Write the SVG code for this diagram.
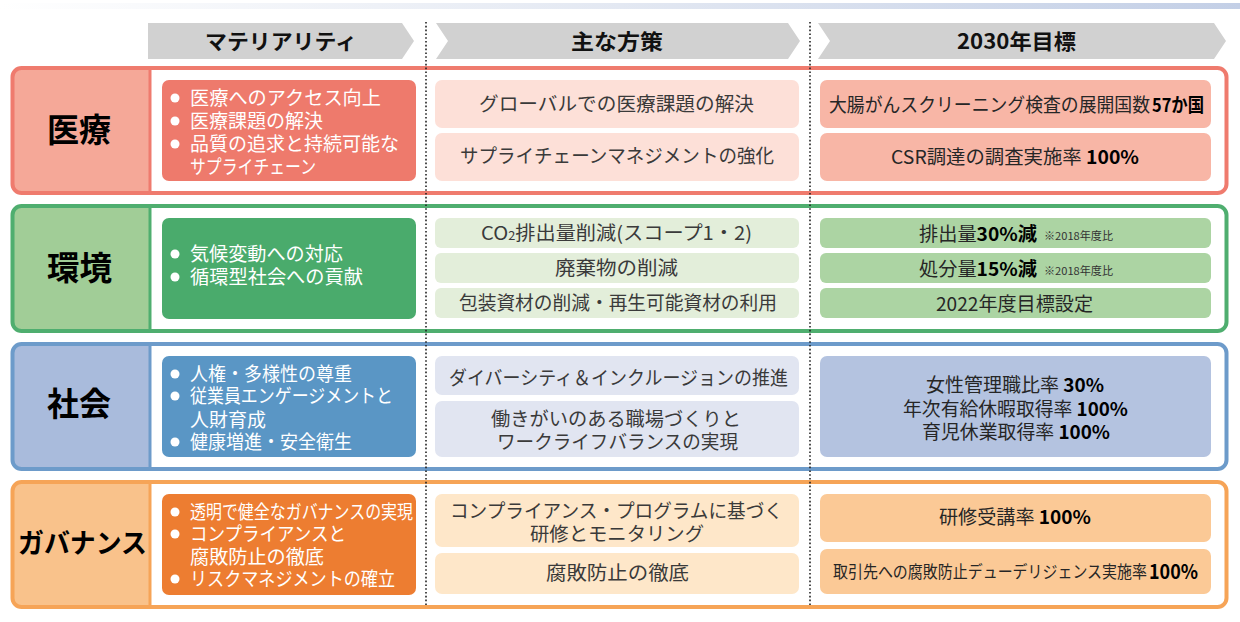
<svg xmlns="http://www.w3.org/2000/svg" width="1240" height="622" viewBox="0 0 1240 622">
<defs>
<linearGradient id="topband" x1="0" y1="0" x2="1" y2="0">
<stop offset="0" stop-color="#ffffff"/>
<stop offset="0.5" stop-color="#e3e8f2"/>
<stop offset="1" stop-color="#c3cfe6"/>
</linearGradient>
<style>
text{font-family:"Noto Sans CJK JP","Noto Sans",sans-serif;}
.hd{fill:#d1d1d1;}
.ht{font-size:21px;font-weight:bold;fill:#111;}
.lab{font-size:33px;font-weight:bold;fill:#000;}
.mt{font-size:19px;fill:#fff;}
.bul{fill:#fff;}
.ms{font-size:19px;fill:#3a3a3a;}
.tg{font-size:19px;fill:#262626;}
.b{font-weight:bold;fill:#000;}
.sm{font-size:11px;fill:#333;}
.div{stroke:#222;stroke-width:1.6;stroke-dasharray:1.6 2.2;fill:none;}
.outer{fill:none;stroke-width:4;}
</style>
</defs>
<rect x="0" y="3" width="1240" height="6" fill="url(#topband)"/>

<g id="headers">
<g id="header-materiality">
<polygon class="hd" points="148,23 402,23 414,41 402,59 148,59"/>
<text class="ht" x="205" y="49" textLength="152" lengthAdjust="spacingAndGlyphs">マテリアリティ</text>
</g>
<g id="header-measures">
<polygon class="hd" points="436,23 788,23 800,41 788,59 436,59 448,41"/>
<text class="ht" x="571" y="49" textLength="92" lengthAdjust="spacingAndGlyphs">主な方策</text>
</g>
<g id="header-targets">
<polygon class="hd" points="818,23 1214,23 1226,41 1214,59 818,59 830,41"/>
<text class="ht" x="957" y="49" textLength="119" lengthAdjust="spacingAndGlyphs">2030年目標</text>
</g>
</g>

<!-- Row 1 医療 -->
<g id="row-medical">
<rect x="12.5" y="68" width="1214" height="125" rx="9" fill="#fff"/>
<path d="M150,68 H21.5 A9,9 0 0 0 12.5,77 V184 A9,9 0 0 0 21.5,193 H150 Z" fill="#f5a898"/>
<line x1="150" y1="68" x2="150" y2="193" stroke="#ef7b6e" stroke-width="3"/>
<rect class="outer" x="12.5" y="68" width="1214" height="125" rx="9" stroke="#ef7b6e"/>
<text class="lab" x="47" y="142" textLength="64" lengthAdjust="spacingAndGlyphs">医療</text>
<g id="medical-materiality">
<rect x="162" y="80" width="254" height="101" rx="7" fill="#ee7a6c"/>
<circle class="bul" cx="175" cy="98" r="4.5"/>
<circle class="bul" cx="175" cy="121" r="4.5"/>
<circle class="bul" cx="175" cy="144" r="4.5"/>
<text class="mt"><tspan x="190" y="105" textLength="191" lengthAdjust="spacingAndGlyphs">医療へのアクセス向上</tspan><tspan x="190" y="128" textLength="133" lengthAdjust="spacingAndGlyphs">医療課題の解決</tspan><tspan x="190" y="151" textLength="209" lengthAdjust="spacingAndGlyphs">品質の追求と持続可能な</tspan><tspan x="190" y="174" textLength="126" lengthAdjust="spacingAndGlyphs">サプライチェーン</tspan></text>
</g>
<g id="medical-measure-1">
<rect x="435" y="80" width="364" height="48" rx="7" fill="#fde0d8"/>
<text class="ms" x="479" y="111" textLength="275" lengthAdjust="spacingAndGlyphs">グローバルでの医療課題の解決</text>
</g>
<g id="medical-measure-2">
<rect x="435" y="133" width="364" height="48" rx="7" fill="#fde0d8"/>
<text class="ms" x="460" y="163" textLength="314" lengthAdjust="spacingAndGlyphs">サプライチェーンマネジメントの強化</text>
</g>
<g id="medical-target-1">
<rect x="820" y="80" width="391" height="48" rx="7" fill="#f8b6a6"/>
<text class="tg"><tspan x="829" y="112" textLength="321" lengthAdjust="spacingAndGlyphs">大腸がんスクリーニング検査の展開国数</tspan><tspan class="b" x="1152" y="112" textLength="52" lengthAdjust="spacingAndGlyphs">57か国</tspan></text>
</g>
<g id="medical-target-2">
<rect x="820" y="133" width="391" height="48" rx="7" fill="#f8b6a6"/>
<text class="tg" x="891" y="164" textLength="248" lengthAdjust="spacingAndGlyphs">CSR調達の調査実施率 <tspan class="b">100%</tspan></text>
</g>
</g>

<!-- Row 2 環境 -->
<g id="row-environment">
<rect x="12.5" y="206" width="1214" height="125" rx="9" fill="#fff"/>
<path d="M150,206 H21.5 A9,9 0 0 0 12.5,215 V322 A9,9 0 0 0 21.5,331 H150 Z" fill="#a1cd97"/>
<line x1="150" y1="206" x2="150" y2="331" stroke="#4fae6f" stroke-width="3"/>
<rect class="outer" x="12.5" y="206" width="1214" height="125" rx="9" stroke="#4fae6f"/>
<text class="lab" x="47" y="280" textLength="65" lengthAdjust="spacingAndGlyphs">環境</text>
<g id="environment-materiality">
<rect x="162" y="218" width="254" height="101" rx="7" fill="#4aab6c"/>
<circle class="bul" cx="175" cy="254" r="4.5"/>
<circle class="bul" cx="175" cy="277" r="4.5"/>
<text class="mt"><tspan x="190" y="261" textLength="153" lengthAdjust="spacingAndGlyphs">気候変動への対応</tspan><tspan x="190" y="284" textLength="173" lengthAdjust="spacingAndGlyphs">循環型社会への貢献</tspan></text>
</g>
<g id="environment-measure-1">
<rect x="435" y="218" width="364" height="30" rx="6" fill="#e3eeda"/>
<text class="ms" x="481" y="240" textLength="271" lengthAdjust="spacingAndGlyphs">CO<tspan font-size="12">2</tspan>排出量削減(スコープ1・2)</text>
</g>
<g id="environment-measure-2">
<rect x="435" y="253" width="364" height="30" rx="6" fill="#e3eeda"/>
<text class="ms" x="555" y="275" textLength="123" lengthAdjust="spacingAndGlyphs">廃棄物の削減</text>
</g>
<g id="environment-measure-3">
<rect x="435" y="288" width="364" height="30" rx="6" fill="#e3eeda"/>
<text class="ms" x="459" y="310" textLength="318" lengthAdjust="spacingAndGlyphs">包装資材の削減・再生可能資材の利用</text>
</g>
<g id="environment-target-1">
<rect x="820" y="218" width="391" height="30" rx="6" fill="#acd4a3"/>
<text class="tg"><tspan x="919" y="241" textLength="118" lengthAdjust="spacingAndGlyphs">排出量<tspan class="b">30%減</tspan></tspan><tspan class="sm" x="1044" y="240" textLength="69" lengthAdjust="spacingAndGlyphs">※2018年度比</tspan></text>
</g>
<g id="environment-target-2">
<rect x="820" y="253" width="391" height="30" rx="6" fill="#acd4a3"/>
<text class="tg"><tspan x="919" y="276" textLength="118" lengthAdjust="spacingAndGlyphs">処分量<tspan class="b">15%減</tspan></tspan><tspan class="sm" x="1044" y="275" textLength="69" lengthAdjust="spacingAndGlyphs">※2018年度比</tspan></text>
</g>
<g id="environment-target-3">
<rect x="820" y="288" width="391" height="30" rx="6" fill="#acd4a3"/>
<text class="tg" x="936" y="311" textLength="157" lengthAdjust="spacingAndGlyphs">2022年度目標設定</text>
</g>
</g>

<!-- Row 3 社会 -->
<g id="row-society">
<rect x="12.5" y="344" width="1214" height="125" rx="9" fill="#fff"/>
<path d="M150,344 H21.5 A9,9 0 0 0 12.5,353 V460 A9,9 0 0 0 21.5,469 H150 Z" fill="#a9bbdc"/>
<line x1="150" y1="344" x2="150" y2="469" stroke="#6d9bca" stroke-width="3"/>
<rect class="outer" x="12.5" y="344" width="1214" height="125" rx="9" stroke="#6d9bca"/>
<text class="lab" x="47" y="416" textLength="64" lengthAdjust="spacingAndGlyphs">社会</text>
<g id="society-materiality">
<rect x="162" y="356" width="254" height="101" rx="7" fill="#5a96c5"/>
<circle class="bul" cx="175" cy="374" r="4.5"/>
<circle class="bul" cx="175" cy="396" r="4.5"/>
<circle class="bul" cx="175" cy="442" r="4.5"/>
<text class="mt"><tspan x="190" y="381" textLength="162" lengthAdjust="spacingAndGlyphs">人権・多様性の尊重</tspan><tspan x="190" y="403" textLength="203" lengthAdjust="spacingAndGlyphs">従業員エンゲージメントと</tspan><tspan x="190" y="427" textLength="76" lengthAdjust="spacingAndGlyphs">人財育成</tspan><tspan x="190" y="449" textLength="162" lengthAdjust="spacingAndGlyphs">健康増進・安全衛生</tspan></text>
</g>
<g id="society-measure-1">
<rect x="435" y="356" width="364" height="39" rx="7" fill="#e1e5f1"/>
<text class="ms" x="449" y="385" textLength="339" lengthAdjust="spacingAndGlyphs">ダイバーシティ＆インクルージョンの推進</text>
</g>
<g id="society-measure-2">
<rect x="435" y="401" width="364" height="56" rx="7" fill="#e1e5f1"/>
<text class="ms"><tspan x="491" y="426" textLength="250" lengthAdjust="spacingAndGlyphs">働きがいのある職場づくりと</tspan><tspan x="497" y="449" textLength="241" lengthAdjust="spacingAndGlyphs">ワークライフバランスの実現</tspan></text>
</g>
<g id="society-target">
<rect x="820" y="356" width="391" height="101" rx="7" fill="#b4c3e0"/>
<text class="tg"><tspan x="926" y="392" textLength="178" lengthAdjust="spacingAndGlyphs">女性管理職比率 <tspan class="b">30%</tspan></tspan><tspan x="903" y="416" textLength="225" lengthAdjust="spacingAndGlyphs">年次有給休暇取得率 <tspan class="b">100%</tspan></tspan><tspan x="922" y="439" textLength="188" lengthAdjust="spacingAndGlyphs">育児休業取得率 <tspan class="b">100%</tspan></tspan></text>
</g>
</g>

<!-- Row 4 ガバナンス -->
<g id="row-governance">
<rect x="12.5" y="482" width="1214" height="125" rx="9" fill="#fff"/>
<path d="M150,482 H21.5 A9,9 0 0 0 12.5,491 V598 A9,9 0 0 0 21.5,607 H150 Z" fill="#f9c28b"/>
<line x1="150" y1="482" x2="150" y2="607" stroke="#f6a457" stroke-width="3"/>
<rect class="outer" x="12.5" y="482" width="1214" height="125" rx="9" stroke="#f6a457"/>
<text class="lab" x="18" y="553" textLength="129" lengthAdjust="spacingAndGlyphs" style="font-size:27px">ガバナンス</text>
<g id="governance-materiality">
<rect x="162" y="494" width="254" height="101" rx="7" fill="#ed7d31"/>
<circle class="bul" cx="175" cy="512" r="4.5"/>
<circle class="bul" cx="175" cy="534" r="4.5"/>
<circle class="bul" cx="175" cy="579" r="4.5"/>
<text class="mt"><tspan x="190" y="519" textLength="223" lengthAdjust="spacingAndGlyphs">透明で健全なガバナンスの実現</tspan><tspan x="190" y="541" textLength="156" lengthAdjust="spacingAndGlyphs">コンプライアンスと</tspan><tspan x="190" y="564" textLength="134" lengthAdjust="spacingAndGlyphs">腐敗防止の徹底</tspan><tspan x="190" y="586" textLength="205" lengthAdjust="spacingAndGlyphs">リスクマネジメントの確立</tspan></text>
</g>
<g id="governance-measure-1">
<rect x="435" y="494" width="364" height="53" rx="7" fill="#fee7c9"/>
<text class="ms"><tspan x="450" y="518" textLength="333" lengthAdjust="spacingAndGlyphs">コンプライアンス・プログラムに基づく</tspan><tspan x="530" y="541" textLength="174" lengthAdjust="spacingAndGlyphs">研修とモニタリング</tspan></text>
</g>
<g id="governance-measure-2">
<rect x="435" y="553" width="364" height="41" rx="7" fill="#fee7c9"/>
<text class="ms" x="546" y="580" textLength="143" lengthAdjust="spacingAndGlyphs">腐敗防止の徹底</text>
</g>
<g id="governance-target-1">
<rect x="820" y="494" width="391" height="48" rx="7" fill="#fbc996"/>
<text class="tg" x="939" y="524" textLength="152" lengthAdjust="spacingAndGlyphs">研修受講率 <tspan class="b">100%</tspan></text>
</g>
<g id="governance-target-2">
<rect x="820" y="549" width="391" height="45" rx="7" fill="#fbc996"/>
<text class="tg"><tspan x="833" y="578" textLength="314" lengthAdjust="spacingAndGlyphs" style="font-size:17px">取引先への腐敗防止デューデリジェンス実施率</tspan><tspan class="b" x="1149" y="579" textLength="49" lengthAdjust="spacingAndGlyphs" style="font-size:20px">100%</tspan></text>
</g>
</g>

<g id="connectors">
<line class="div" x1="426" y1="22" x2="426" y2="605"/>
<line class="div" x1="810" y1="22" x2="810" y2="605"/>
</g>
</svg>
